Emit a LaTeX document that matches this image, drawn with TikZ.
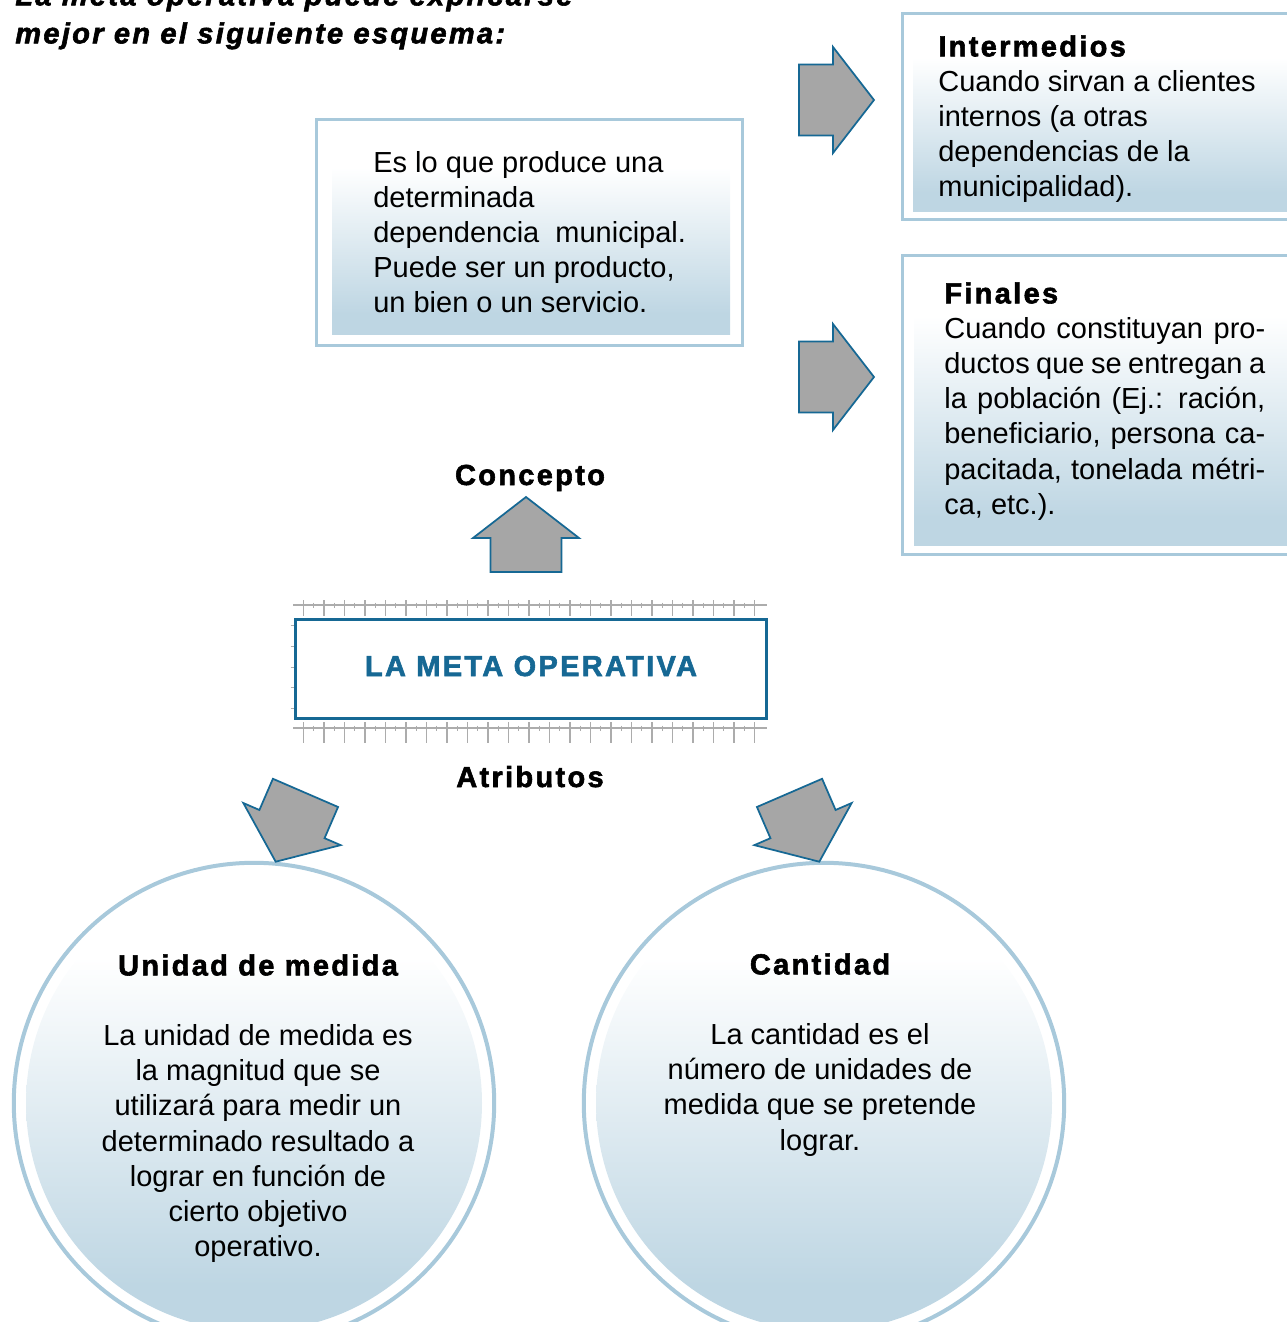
\documentclass[tikz,border=0pt]{standalone}
\usepackage{fontspec}
\setmainfont{Liberation Sans}
\newfontfamily\headfont{Liberation Sans}[LetterSpace=8, BoldFeatures={FakeBold=2}, BoldItalicFeatures={FakeBold=2}]
\usetikzlibrary{positioning}

\definecolor{bordeazul}{RGB}{168,201,219}
\definecolor{fondoazul}{RGB}{190,214,227}
\definecolor{azulosc}{RGB}{22,104,148}
\definecolor{grisflecha}{RGB}{166,166,166}
\definecolor{grisriel}{RGB}{172,172,172}

\pgfdeclareverticalshading{degradado}{100bp}{color(0bp)=(fondoazul); color(30bp)=(fondoazul); color(66bp)=(white); color(100bp)=(white)}

\tikzstyle{marco} = [draw=bordeazul, line width=0.06cm, inner sep=0pt]
\tikzstyle{fondo} = [shading=degradado]
\tikzstyle{texto} = [inner sep=0pt, font=\fontsize{16.5}{20}\selectfont]
\tikzstyle{titulo} = [inner sep=0pt, font=\fontsize{16.5}{20}\selectfont\headfont\bfseries]
\tikzstyle{flecha} = [draw=azulosc, line width=0.035cm, fill=grisflecha, line join=miter]
\tikzstyle{riel} = [draw=grisriel, line width=0.03cm]

% flecha de bloque, punta en el origen, apunta hacia +x
\newcommand{\flechabloque}{\draw[flecha] (0,0) -- (-41,53) -- (-41,35.5) -- (-75,35.5) -- (-75,-35.5) -- (-41,-35.5) -- (-41,-53) -- cycle;}

\begin{document}
\begin{tikzpicture}[x=0.02cm, y=-0.02cm]
\useasboundingbox (0,0) rectangle (1287,1322);

% titulo
\node (encabezado) [titulo, font=\fontsize{16.5}{21.6}\selectfont\headfont\bfseries\itshape, align=left, anchor=north west] at (15,-16) {La meta operativa puede explicarse\\mejor en el siguiente esquema:};

% concepto
\node (concepto) [marco, minimum width=8.54cm, minimum height=4.54cm] at (529.5,232.5) {};
\shade[fondo] (332,131) rectangle (730,334);
\node (concepto texto) [texto, align=left, anchor=north west] at (373,151) {Es lo que produce una\\determinada\\dependencia\ \ municipal.\\Puede ser un producto,\\un bien o un servicio.};

% intermedios y finales
\node (intermedios) [marco, minimum width=8.16cm, minimum height=4.14cm] at (1106,116.5) {};
\shade[fondo] (913,24) rectangle (1300,211);
\node (intermedios texto) [texto, align=left, anchor=north west] at (938,35) {{\headfont\bfseries Intermedios}\\Cuando sirvan a clientes\\internos (a otras\\dependencias de la\\municipalidad).};

\node (finales) [marco, minimum width=8.16cm, minimum height=6cm] at (1106,405) {};
\shade[fondo] (914,266) rectangle (1300,545);
\node (finales texto) [texto, text width=6.42cm, align=justify, anchor=north west] at (944,282) {{\headfont\bfseries Finales}\hfill\break Cuando constituyan pro-\linebreak ductos que se entregan a\linebreak la población (Ej.: ración,\linebreak beneficiario, persona ca-\linebreak pacitada, tonelada métri-\linebreak ca, etc.).};

\begin{scope}[shift={(874,100)}] \flechabloque \end{scope}
\begin{scope}[shift={(874,377)}] \flechabloque \end{scope}

% la meta operativa
\node (concepto label) [titulo, anchor=base] at (530,485) {Concepto};
\begin{scope}[shift={(526,497)}, rotate=90] \flechabloque \end{scope}

\draw[riel] (293,605) -- (767,605);
\draw[riel] (293,728) -- (767,728);
\foreach \i in {0,...,22} {
  \draw[riel] (303.3+20.5*\i,600) -- ++(0,16);
  \draw[riel] (303.3+20.5*\i,722) -- ++(0,21);
}
\foreach \i in {0,...,21} {
  \draw[riel, line width=0.02cm] (313.55+20.5*\i,602.5) -- ++(0,5);
  \draw[riel, line width=0.02cm] (313.55+20.5*\i,725.5) -- ++(0,5);
}
\foreach \y in {625,646.5,667,687.5,708}
  \draw[riel, line width=0.02cm] (290.5,\y) -- (294,\y);

\node (meta) [draw=azulosc, line width=0.06cm, fill=white, minimum width=9.42cm, minimum height=1.98cm, text height=0.42cm, text depth=0.14cm, text=azulosc, titulo] at (531,669) {LA\ META\ OPERATIVA};

\node (atributos) [titulo, anchor=base] at (530,787) {Atributos};

% atributos
\node (unidad) [circle, draw=bordeazul, line width=0.08cm, minimum size=9.61cm] at (254,1103) {};
\shade[fondo] (254,1103) circle [radius=228];
\node (unidad texto) [texto, align=center, anchor=north] at (258,954) {{\headfont\bfseries Unidad de medida}\\[20pt]La unidad de medida es\\la magnitud que se\\utilizará para medir un\\determinado resultado a\\lograr en función de\\cierto objetivo\\operativo.};

\node (cantidad) [circle, draw=bordeazul, line width=0.08cm, minimum size=9.61cm] at (824,1103) {};
\shade[fondo] (824,1103) circle [radius=228];
\node (cantidad texto) [texto, align=center, anchor=north] at (820,953) {{\headfont\bfseries Cantidad}\\[20pt]La cantidad es el\\número de unidades de\\medida que se pretende\\lograr.};

\begin{scope}[shift={(275.7,861.7)}, rotate=-113.4] \flechabloque \end{scope}
\begin{scope}[shift={(819.3,861.7)}, rotate=-66.6] \flechabloque \end{scope}

\end{tikzpicture}
\end{document}
